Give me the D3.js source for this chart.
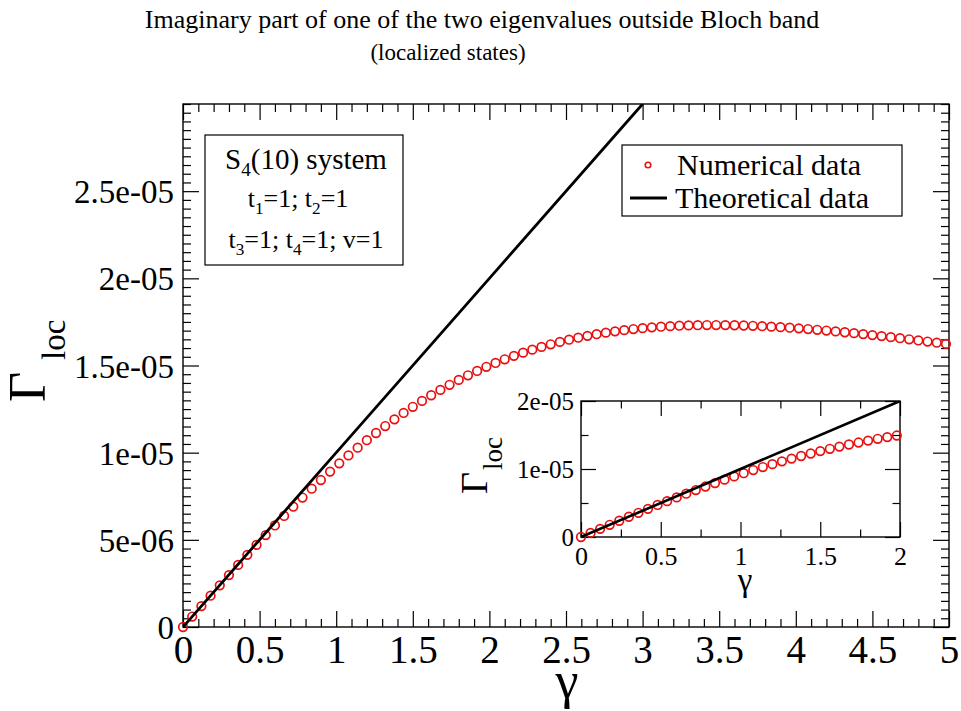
<!DOCTYPE html>
<html><head><meta charset="utf-8">
<script src="https://cdn.jsdelivr.net/npm/d3@7"></script>
<style>
html,body{margin:0;padding:0;background:#fff;}
svg{display:block;}
text{font-family:"Liberation Serif","Times New Roman",serif;fill:#000;}
</style></head><body>
<svg id="chart" width="961" height="711"></svg>
<script>
// ---------------- data ----------------
const titleLines = ["Imaginary part of one of the two eigenvalues outside Bloch band", "(localized states)"];

const numGamma = [0,0.06,0.12,0.18,0.24,0.30,0.36,0.42,0.48,0.54,
  0.60,0.66,0.72,0.78,0.84,0.90,0.96,1.02,1.08,1.14,
  1.20,1.26,1.32,1.38,1.44,1.50,1.56,1.62,1.68,1.74,
  1.80,1.86,1.92,1.98,2.04,2.10,2.16,2.22,2.28,2.34,
  2.40,2.46,2.52,2.58,2.64,2.70,2.76,2.82,2.88,2.94,
  3.00,3.06,3.12,3.18,3.24,3.30,3.36,3.42,3.48,3.54,
  3.60,3.66,3.72,3.78,3.84,3.90,3.96,4.02,4.08,4.14,
  4.20,4.26,4.32,4.38,4.44,4.50,4.56,4.62,4.68,4.74,
  4.80,4.86,4.92,4.98];
const numLoc = [0,0.0600e-5,0.1199e-5,0.1795e-5,0.2389e-5,0.2978e-5,0.3562e-5,0.4139e-5,0.4710e-5,0.5272e-5,
  0.5825e-5,0.6369e-5,0.6902e-5,0.7424e-5,0.7934e-5,0.8431e-5,0.8915e-5,0.9386e-5,0.9843e-5,1.0286e-5,
  1.0714e-5,1.1128e-5,1.1526e-5,1.1910e-5,1.2278e-5,1.2632e-5,1.2970e-5,1.3293e-5,1.3601e-5,1.3894e-5,
  1.4173e-5,1.4438e-5,1.4688e-5,1.4924e-5,1.5147e-5,1.5356e-5,1.5553e-5,1.5737e-5,1.5908e-5,1.6068e-5,
  1.6216e-5,1.6353e-5,1.6479e-5,1.6595e-5,1.6700e-5,1.6796e-5,1.6883e-5,1.6960e-5,1.7029e-5,1.7090e-5,
  1.7143e-5,1.7188e-5,1.7226e-5,1.7257e-5,1.7282e-5,1.7300e-5,1.7312e-5,1.7319e-5,1.7320e-5,1.7316e-5,
  1.7308e-5,1.7294e-5,1.7277e-5,1.7255e-5,1.7229e-5,1.7200e-5,1.7167e-5,1.7130e-5,1.7091e-5,1.7049e-5,
  1.7004e-5,1.6957e-5,1.6907e-5,1.6855e-5,1.6800e-5,1.6744e-5,1.6686e-5,1.6627e-5,1.6565e-5,1.6502e-5,
  1.6438e-5,1.6373e-5,1.6307e-5,1.6239e-5];

const theoGamma = [0, 1, 2, 3];
const theoLoc = [0, 1e-5, 2e-5, 3e-5];

const mainXTicks = [0,0.5,1,1.5,2,2.5,3,3.5,4,4.5,5];
const mainXTickLabels = ["0","0.5","1","1.5","2","2.5","3","3.5","4","4.5","5"];
const mainYTicks = [0,5e-6,1e-5,1.5e-5,2e-5,2.5e-5];
const mainYTickLabels = ["0","5e-06","1e-05","1.5e-05","2e-05","2.5e-05"];
const insetXTicks = [0,0.5,1,1.5,2];
const insetXTickLabels = ["0","0.5","1","1.5","2"];
const insetYTicks = [0,1e-5,2e-5];
const insetYTickLabels = ["0","1e-05","2e-05"];
const legendLabels = ["Numerical data","Theoretical data"];

// ---------------- drawing ----------------
const FONT = '"Liberation Serif","Times New Roman",serif';
const RED = "#e81010";
const svg = d3.select("#chart");
svg.append("rect").attr("width",961).attr("height",711).attr("fill","#fff");

const numPts = numGamma.map((g,i)=>({g, v:numLoc[i]}));
const theoPts = theoGamma.map((g,i)=>({g, v:theoLoc[i]}));

function ticks(g, axisFn, scale, transform, values, len, labels, fs, pad) {
  const ax = axisFn(scale).tickValues(values).tickSize(-len).tickPadding(pad)
    .tickFormat(labels ? (d,i)=>labels[i] : ()=>"");
  const ga = g.append("g").attr("transform", transform).call(ax);
  ga.select(".domain").remove();
  ga.attr("font-family", FONT).attr("font-size", fs);
  ga.selectAll("line").attr("stroke","#000").attr("stroke-width",1.2);
  ga.selectAll("text").attr("fill","#000");
  return ga;
}

function panel(c) {
  const g = svg.append("g");
  const x = d3.scaleLinear().domain(c.xDomain).range([c.left, c.right]);
  const y = d3.scaleLinear().domain(c.yDomain).range([c.bottom, c.top]);
  g.append("rect").attr("x",c.left).attr("y",c.top).attr("width",c.right-c.left)
    .attr("height",c.bottom-c.top).attr("fill","#fff");

  const xMinor = d3.range(c.xDomain[0], c.xDomain[1]+1e-9, c.xMinorStep).filter(v=>!c.xTicks.some(t=>Math.abs(t-v)<1e-9));
  const yMinor = d3.range(c.yDomain[0], c.yDomain[1]+1e-15, c.yMinorStep).filter(v=>!c.yTicks.some(t=>Math.abs(t-v)<1e-12));

  ticks(g, d3.axisBottom, x, `translate(0,${c.bottom})`, xMinor, c.minorLen, null, 10, 0);
  ticks(g, d3.axisTop, x, `translate(0,${c.top})`, xMinor, c.minorLen, null, 10, 0);
  ticks(g, d3.axisLeft, y, `translate(${c.left},0)`, yMinor, c.minorLen, null, 10, 0);
  ticks(g, d3.axisRight, y, `translate(${c.right},0)`, yMinor, c.minorLen, null, 10, 0);
  const bx = ticks(g, d3.axisBottom, x, `translate(0,${c.bottom})`, c.xTicks, c.majorLen, c.xLabels, c.xFs, 0);
  bx.selectAll("text").attr("dy", null).attr("y", c.xLabelBase);
  ticks(g, d3.axisTop, x, `translate(0,${c.top})`, c.xTicks, c.majorLen, null, 10, 0);
  const ly = ticks(g, d3.axisLeft, y, `translate(${c.left},0)`, c.yTicks, c.majorLen, c.yLabels, c.yFs, c.yPad);
  ly.selectAll("text").attr("x", -c.yPad).attr("dy","0.35em");
  ticks(g, d3.axisRight, y, `translate(${c.right},0)`, c.yTicks, c.majorLen, null, 10, 0);

  g.append("rect").attr("x",c.left).attr("y",c.top).attr("width",c.right-c.left)
    .attr("height",c.bottom-c.top).attr("fill","none").attr("stroke","#000").attr("stroke-width",1.4);

  const clipId = "clip"+c.id;
  svg.append("clipPath").attr("id",clipId).append("rect")
    .attr("x",c.left).attr("y",c.top).attr("width",c.right-c.left).attr("height",c.bottom-c.top);

  const pts = numPts.filter(d=>d.g <= c.xDomain[1]+1e-9);
  g.append("g").selectAll("circle").data(pts).join("circle")
    .attr("cx",d=>x(d.g)).attr("cy",d=>y(d.v)).attr("r",c.r)
    .attr("fill","none").attr("stroke",RED).attr("stroke-width",1.7);

  g.append("path").datum(theoPts).attr("clip-path",`url(#${clipId})`)
    .attr("d", d3.line().x(d=>x(d.g)).y(d=>y(d.v)))
    .attr("fill","none").attr("stroke","#000").attr("stroke-width",c.lw);

  g.append("text").attr("x",c.xTitle[0]).attr("y",c.xTitle[1]).attr("text-anchor","middle")
    .attr("font-size",c.xTitleFs).text("\u03B3");
  const yt = g.append("text").attr("transform",`translate(${c.yTitle[0]},${c.yTitle[1]}) rotate(-90)`);
  yt.append("tspan").attr("font-size",c.yTitleFs).text("\u0393");
  yt.append("tspan").attr("font-size",c.ySubFs).attr("dx",c.ySubDx).attr("dy",c.ySubDy).text("loc");
  return {x,y};
}

panel({id:"main", left:183, right:949, top:104, bottom:627,
  xDomain:[0,5], yDomain:[0,3e-5], xTicks:mainXTicks, yTicks:mainYTicks,
  xLabels:mainXTickLabels, yLabels:mainYTickLabels, xMinorStep:0.1, yMinorStep:5e-7,
  majorLen:16, minorLen:8, xFs:39, yFs:33, xLabelBase:36, yPad:9, r:4.3, lw:2.8,
  xTitle:[567,698], xTitleFs:52, yTitle:[45,402], yTitleFs:52, ySubFs:33, ySubDx:12, ySubDy:20});

panel({id:"inset", left:581, right:900, top:401, bottom:537,
  xDomain:[0,2], yDomain:[0,2e-5], xTicks:insetXTicks, yTicks:insetYTicks,
  xLabels:insetXTickLabels, yLabels:insetYTickLabels, xMinorStep:0.25, yMinorStep:5e-6,
  majorLen:15, minorLen:7.5, xFs:26, yFs:25, xLabelBase:28, yPad:7, r:4.3, lw:2.6,
  xTitle:[745,591], xTitleFs:33, yTitle:[487,494], yTitleFs:38, ySubFs:27, ySubDx:2, ySubDy:15});

// title
svg.append("text").attr("x",482).attr("y",28).attr("text-anchor","middle").attr("font-size",26).text(titleLines[0]);
svg.append("text").attr("x",448).attr("y",60).attr("text-anchor","middle").attr("font-size",23).text(titleLines[1]);

// info box
const ib = svg.append("g");
ib.append("rect").attr("x",205).attr("y",135).attr("width",198).attr("height",130)
  .attr("fill","#fff").attr("stroke","#000").attr("stroke-width",1.2);
function richLine(xc, yb, fs, parts) {
  const t = ib.append("text").attr("x",xc).attr("y",yb).attr("text-anchor","middle").attr("font-size",fs);
  let shifted = false;
  parts.forEach(p=>{
    const s = t.append("tspan").text(p[0]);
    if (p[1]) { s.attr("font-size",fs*0.66).attr("dy",7); shifted = true; }
    else if (shifted) { s.attr("dy",-7); shifted = false; }
  });
}
richLine(306,169,29,[["S"],["4",1],["(10) system"]]);
richLine(298,207,26,[["t"],["1",1],["=1; t"],["2",1],["=1"]]);
richLine(306,248,26,[["t"],["3",1],["=1; t"],["4",1],["=1; v=1"]]);

// legend
const lg = svg.append("g");
lg.append("rect").attr("x",622).attr("y",145).attr("width",280).attr("height",71)
  .attr("fill","#fff").attr("stroke","#000").attr("stroke-width",1.2);
lg.append("circle").attr("cx",648).attr("cy",165).attr("r",2.8).attr("fill","none")
  .attr("stroke",RED).attr("stroke-width",1.6);
lg.append("line").attr("x1",630).attr("x2",667).attr("y1",198).attr("y2",198)
  .attr("stroke","#000").attr("stroke-width",2.8);
lg.append("text").attr("x",677).attr("y",175).attr("font-size",30).text(legendLabels[0]);
lg.append("text").attr("x",675).attr("y",208).attr("font-size",30).text(legendLabels[1]);
</script>
</body></html>
